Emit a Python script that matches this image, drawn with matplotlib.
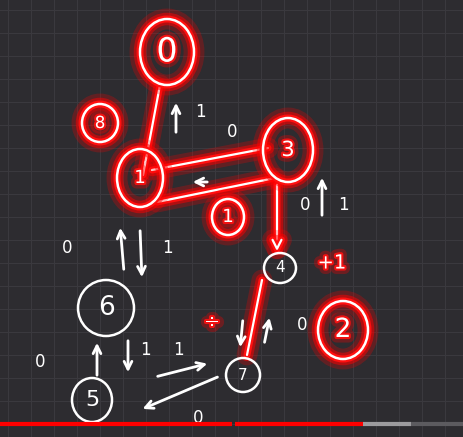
import matplotlib
matplotlib.use("Agg")
import matplotlib.pyplot as plt
from matplotlib.patches import Ellipse
import matplotlib.patheffects as pe

# ---- data ----
node_labels = ["0", "8", "1", "3", "4", "2", "7", "6", "5"]
node_x = [167, 100, 140, 288, 280, 343, 243, 106, 92]
node_y = [52, 123, 178, 150, 268, 330, 375, 308, 400]
node_w = [54, 36, 46, 50, 32, 50, 34, 56, 40]
node_h = [66, 38, 58, 64, 30, 58, 34, 56, 44]
node_fs = [24, 12, 13, 15, 11, 19, 11, 19, 16]
node_glow = [True, True, True, True, False, True, False, False, False]

# red edge strokes (x0, y0, x1, y1)
red_x0 = [160, 152, 157, 262]
red_y0 = [85, 170, 202, 280]
red_x1 = [143, 268, 275, 247]
red_y1 = [175, 148, 178, 355]

# red arrow 3 -> 4
red_ax0, red_ay0, red_ax1, red_ay1 = 277, 182, 277, 254

# white arrows (tail -> head)
arr_x0 = [176, 210, 124, 140, 97, 128, 155, 220, 243, 264, 322]
arr_y0 = [135, 182, 272, 228, 378, 338, 377, 376, 318, 345, 218]
arr_x1 = [176, 190, 120, 142, 97, 128, 210, 140, 240, 270, 322]
arr_y1 = [100, 182, 225, 280, 340, 375, 363, 410, 350, 315, 175]

# weight labels
lab_text = ["1", "0", "0", "1", "0", "1", "1", "0", "0", "0", "1"]
lab_x = [200, 232, 67, 167, 40, 145, 178, 198, 305, 302, 343]
lab_y = [112, 132, 248, 248, 362, 350, 350, 418, 205, 325, 205]

red_text = ["+1", "÷"]
red_tx = [332, 212]
red_ty = [263, 322]

small_circle = ("1", 228, 217)

# ---- drawing ----
fig = plt.figure(figsize=(4.63, 4.37), dpi=100)
fig.patch.set_facecolor("#2d2c30")
ax = fig.add_axes([0, 0, 1, 1])
ax.set_facecolor("#2d2c30")
ax.set_xlim(0, 463)
ax.set_ylim(437, 0)
ax.set_xticks([])
ax.set_yticks([])
for s in ax.spines.values():
    s.set_visible(False)

# grid
g = 0
while g < 463:
    ax.axvline(g + 8, color="#3a393e", lw=0.8, zorder=0)
    g += 23
g = 0
while g < 437:
    ax.axhline(g + 10, color="#3a393e", lw=0.8, zorder=0)
    g += 23

glow = [pe.Stroke(linewidth=15, foreground="#ff0000", alpha=0.25),
        pe.Stroke(linewidth=9, foreground="#ff0000", alpha=0.5),
        pe.Stroke(linewidth=5, foreground="#ff1010"),
        pe.Normal()]
glow_txt = [pe.Stroke(linewidth=8, foreground="#ff0000", alpha=0.3),
            pe.Stroke(linewidth=3, foreground="#ff1010", alpha=0.9),
            pe.Normal()]

for i in range(len(red_x0)):
    ln, = ax.plot([red_x0[i], red_x1[i]], [red_y0[i], red_y1[i]],
                  color="white", lw=1.6, solid_capstyle="round", zorder=3)
    ln.set_path_effects(glow)

an = ax.annotate("", xy=(red_ax1, red_ay1), xytext=(red_ax0, red_ay0),
                 arrowprops=dict(arrowstyle="->", color="white", lw=1.6,
                                 mutation_scale=16), zorder=3)
an.arrow_patch.set_path_effects(glow)

for lab, x, y, w, h, fs, gl in zip(node_labels, node_x, node_y, node_w, node_h,
                                   node_fs, node_glow):
    e = Ellipse((x, y), w, h, fill=False, edgecolor="white", lw=1.8, zorder=4)
    ax.add_patch(e)
    t = ax.text(x, y, lab, color="white", ha="center", va="center",
                fontsize=fs, zorder=5)
    if gl:
        e.set_path_effects(glow)
        t.set_path_effects(glow_txt)

e = Ellipse((small_circle[1], small_circle[2]), 32, 36, fill=False,
            edgecolor="white", lw=1.8, zorder=4)
e.set_path_effects(glow)
ax.add_patch(e)
t = ax.text(small_circle[1], small_circle[2], small_circle[0], color="white",
            ha="center", va="center", fontsize=13, zorder=5)
t.set_path_effects(glow_txt)

for i in range(len(arr_x0)):
    ax.annotate("", xy=(arr_x1[i], arr_y1[i]), xytext=(arr_x0[i], arr_y0[i]),
                arrowprops=dict(arrowstyle="->", color="white", lw=2,
                                mutation_scale=14), zorder=6)

for s, x, y in zip(lab_text, lab_x, lab_y):
    ax.text(x, y, s, color="white", ha="center", va="center", fontsize=12, zorder=6)

for s, x, y in zip(red_text, red_tx, red_ty):
    t = ax.text(x, y, s, color="white", ha="center", va="center",
                fontsize=14, zorder=6)
    t.set_path_effects(glow_txt)

# progress bar
ax.plot([0, 232], [424, 424], color="#ff0000", lw=3, solid_capstyle="butt", zorder=7)
ax.plot([235, 363], [424, 424], color="#ff0000", lw=3, solid_capstyle="butt", zorder=7)
ax.plot([363, 411], [424, 424], color="#9c9b9e", lw=3, solid_capstyle="butt", zorder=7)
ax.plot([411, 463], [424, 424], color="#5c5b5f", lw=3, solid_capstyle="butt", zorder=7)

fig.savefig("out.png", dpi=100, facecolor=fig.get_facecolor())
